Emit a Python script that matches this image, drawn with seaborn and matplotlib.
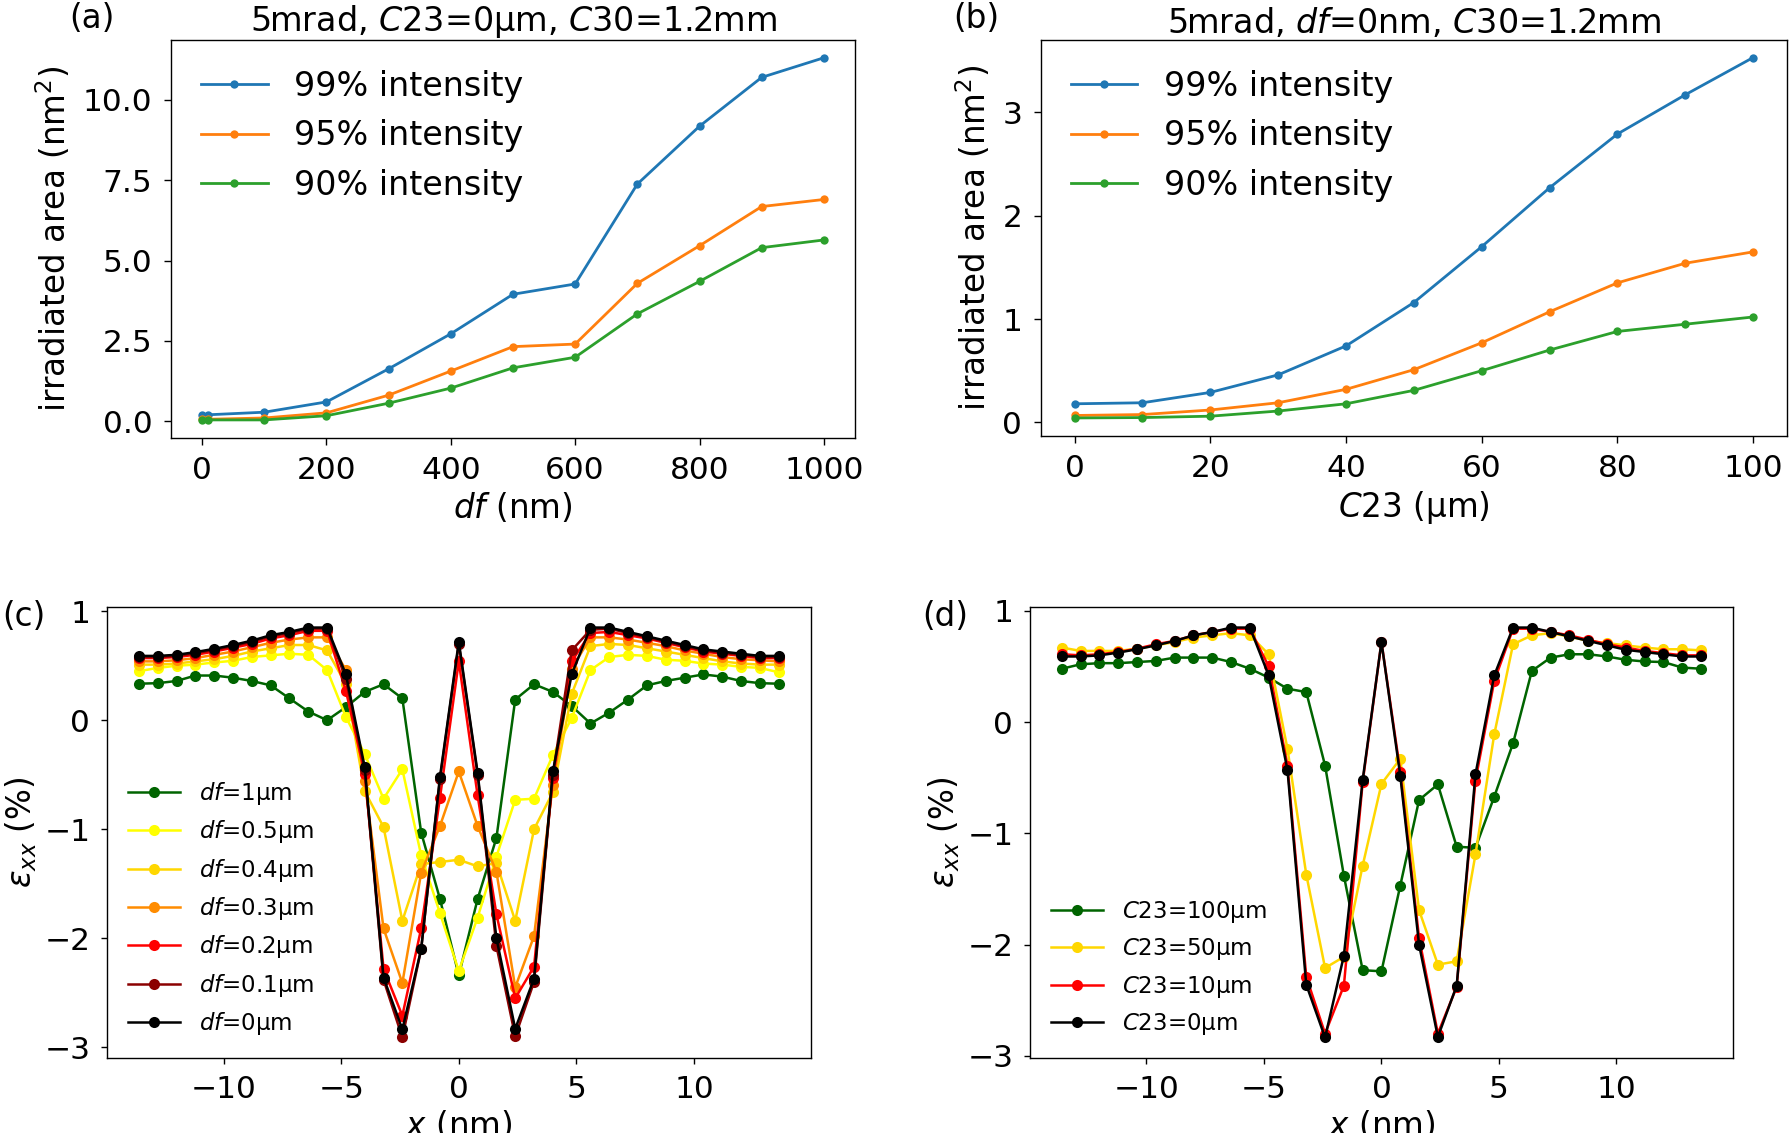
import numpy as np
import pandas as pd
import matplotlib
matplotlib.use("Agg")
import matplotlib.pyplot as plt
import seaborn as sns

# ---- (a) irradiated area vs defocus ----
df_nm = [0, 10, 100, 200, 300, 400, 500, 600, 700, 800, 900, 1000]
area_df_99 = [0.20, 0.20, 0.28, 0.60, 1.63, 2.72, 3.95, 4.27, 7.38, 9.18, 10.70, 11.31]
area_df_95 = [0.06, 0.06, 0.10, 0.26, 0.81, 1.56, 2.32, 2.40, 4.29, 5.46, 6.68, 6.90]
area_df_90 = [0.04, 0.04, 0.04, 0.17, 0.56, 1.03, 1.66, 1.99, 3.34, 4.35, 5.40, 5.64]

# ---- (b) irradiated area vs C23 ----
c23_um = [0, 10, 20, 30, 40, 50, 60, 70, 80, 90, 100]
area_c23_99 = [0.18, 0.19, 0.29, 0.46, 0.74, 1.16, 1.70, 2.27, 2.79, 3.17, 3.53]
area_c23_95 = [0.067, 0.076, 0.12, 0.19, 0.32, 0.51, 0.77, 1.07, 1.35, 1.54, 1.65]
area_c23_90 = [0.043, 0.047, 0.06, 0.11, 0.18, 0.31, 0.50, 0.70, 0.88, 0.95, 1.02]

# ---- (c)/(d) strain profiles ----
x_nm = [-13.6, -12.8, -12.0, -11.2, -10.4, -9.6, -8.8, -8.0, -7.2, -6.4, -5.6,
        -4.8, -4.0, -3.2, -2.4, -1.6, -0.8, 0.0, 0.8, 1.6, 2.4, 3.2, 4.0, 4.8,
        5.6, 6.4, 7.2, 8.0, 8.8, 9.6, 10.4, 11.2, 12.0, 12.8, 13.6]

exx_df_1 = [0.335, 0.34, 0.36, 0.41, 0.41, 0.39, 0.36, 0.32, 0.20, 0.08, 0.00,
            0.12, 0.26, 0.33, 0.20, -1.03, -1.64, -2.34, -1.64, -1.08, 0.19, 0.33, 0.26, 0.13,
            -0.03, 0.07, 0.19, 0.32, 0.36, 0.39, 0.42, 0.40, 0.36, 0.34, 0.335]
exx_df_05 = [0.45, 0.48, 0.50, 0.51, 0.53, 0.545, 0.58, 0.595, 0.61, 0.60, 0.46,
             0.03, -0.31, -0.72, -0.45, -1.24, -1.77, -2.30, -1.81, -1.25, -0.73, -0.72, -0.32, 0.02,
             0.46, 0.58, 0.60, 0.59, 0.555, 0.545, 0.52, 0.51, 0.49, 0.48, 0.44]
exx_df_04 = [0.51, 0.51, 0.52, 0.54, 0.56, 0.59, 0.63, 0.66, 0.69, 0.69, 0.64,
             0.33, -0.65, -0.98, -1.84, -1.32, -1.30, -1.28, -1.34, -1.31, -1.84, -1.00, -0.66, 0.24,
             0.68, 0.70, 0.69, 0.66, 0.63, 0.60, 0.57, 0.54, 0.52, 0.51, 0.51]
exx_df_03 = [0.54, 0.54, 0.55, 0.57, 0.60, 0.63, 0.67, 0.71, 0.74, 0.76, 0.76,
             0.46, -0.56, -1.91, -2.41, -1.40, -0.97, -0.47, -0.97, -1.39, -2.45, -1.98, -0.59, 0.47,
             0.76, 0.76, 0.74, 0.71, 0.68, 0.64, 0.61, 0.58, 0.56, 0.55, 0.54]
exx_df_02 = [0.57, 0.57, 0.58, 0.60, 0.63, 0.665, 0.70, 0.75, 0.78, 0.82, 0.82,
             0.27, -0.49, -2.28, -2.71, -1.91, -0.71, 0.54, -0.69, -1.78, -2.55, -2.26, -0.53, 0.54,
             0.80, 0.81, 0.78, 0.75, 0.71, 0.67, 0.63, 0.61, 0.59, 0.57, 0.57]
exx_df_01 = [0.58, 0.58, 0.59, 0.615, 0.645, 0.68, 0.72, 0.77, 0.80, 0.84, 0.84,
             0.38, -0.46, -2.38, -2.91, -2.10, -0.54, 0.70, -0.50, -2.07, -2.90, -2.40, -0.50, 0.64,
             0.83, 0.84, 0.80, 0.76, 0.72, 0.68, 0.64, 0.62, 0.60, 0.58, 0.58]
exx_df_0 = [0.59, 0.59, 0.60, 0.625, 0.655, 0.69, 0.73, 0.78, 0.81, 0.85, 0.85,
            0.42, -0.43, -2.36, -2.835, -2.10, -0.52, 0.72, -0.48, -2.00, -2.83, -2.37, -0.47, 0.42,
            0.85, 0.85, 0.81, 0.77, 0.73, 0.69, 0.65, 0.63, 0.61, 0.59, 0.59]

exx_c23_100 = [0.48, 0.52, 0.53, 0.53, 0.54, 0.55, 0.58, 0.58, 0.58, 0.54, 0.48,
               0.40, 0.30, 0.27, -0.39, -1.38, -2.23, -2.24, -1.47, -0.70, -0.56, -1.12, -1.13, -0.67,
               -0.19, 0.46, 0.58, 0.61, 0.61, 0.59, 0.56, 0.545, 0.54, 0.49, 0.48]
exx_c23_50 = [0.67, 0.64, 0.64, 0.64, 0.66, 0.69, 0.72, 0.76, 0.78, 0.80, 0.78,
              0.61, -0.24, -1.37, -2.21, -2.11, -1.29, -0.555, -0.33, -1.69, -2.18, -2.15, -1.19, -0.11,
              0.70, 0.78, 0.80, 0.77, 0.73, 0.71, 0.69, 0.67, 0.655, 0.655, 0.645]
exx_c23_10 = [0.61, 0.60, 0.61, 0.63, 0.66, 0.70, 0.73, 0.78, 0.81, 0.84, 0.84,
              0.50, -0.39, -2.29, -2.80, -2.37, -0.54, 0.72, -0.445, -1.94, -2.80, -2.38, -0.525, 0.37,
              0.84, 0.84, 0.81, 0.78, 0.74, 0.70, 0.67, 0.64, 0.62, 0.60, 0.60]
exx_c23_0 = exx_df_0

TICK_FS = 22.5
LAB_FS = 23.5
TOP_FS = 24
plt.rcParams['font.size'] = TICK_FS
plt.rcParams['mathtext.fontset'] = 'dejavusans'
plt.rcParams['axes.linewidth'] = 1.0
for ax_name in ['xtick', 'ytick']:
    plt.rcParams[ax_name + '.major.width'] = 1.0
    plt.rcParams[ax_name + '.labelsize'] = TICK_FS

fig = plt.figure(figsize=(17.89, 11.33), dpi=100)
ax_a = fig.add_axes([0.0956, 0.6134, 0.3823, 0.3516])
ax_b = fig.add_axes([0.5817, 0.6152, 0.4172, 0.3499])
ax_c = fig.add_axes([0.0598, 0.0662, 0.3933, 0.398])
ax_d = fig.add_axes([0.5757, 0.0662, 0.3930, 0.398])

tab = ['#1f77b4', '#ff7f0e', '#2ca02c']

# top row
for ax, xs, series in [
    (ax_a, df_nm, [area_df_99, area_df_95, area_df_90]),
    (ax_b, c23_um, [area_c23_99, area_c23_95, area_c23_90]),
]:
    for vals, lab, col in zip(series, ['99% intensity', '95% intensity', '90% intensity'], tab):
        sns.lineplot(x=xs, y=vals, ax=ax, color=col, marker='o', markersize=6,
                     markeredgewidth=0, linewidth=2, label=lab)
    ax.legend(loc='upper left', frameon=False, fontsize=TOP_FS, handlelength=2.0,
              labelspacing=0.5, handletextpad=0.8)
    ax.set_ylabel('irradiated area (nm$^2$)', fontsize=LAB_FS, labelpad=7)
    ax.tick_params(length=4.8, pad=8.5)

ax_a.set_xlabel('$df$ (nm)', fontsize=LAB_FS, labelpad=4)
ax_a.set_title('5mrad, $C$23=0μm, $C$30=1.2mm', fontsize=TOP_FS, pad=0.5)
ax_a.set_yticks([0, 2.5, 5.0, 7.5, 10.0])
ax_b.set_xlabel('$C$23 (μm)', fontsize=LAB_FS, labelpad=4)
ax_b.set_title('5mrad, $df$=0nm, $C$30=1.2mm', fontsize=TOP_FS, pad=0.5)
ax_b.set_yticks([0, 1, 2, 3])

# bottom row
c_series = [
    (exx_df_1, '$df$=1μm', 'darkgreen'),
    (exx_df_05, '$df$=0.5μm', '#ffff00'),
    (exx_df_04, '$df$=0.4μm', '#ffd700'),
    (exx_df_03, '$df$=0.3μm', 'darkorange'),
    (exx_df_02, '$df$=0.2μm', 'red'),
    (exx_df_01, '$df$=0.1μm', 'darkred'),
    (exx_df_0, '$df$=0μm', 'black'),
]
d_series = [
    (exx_c23_100, '$C$23=100μm', 'darkgreen'),
    (exx_c23_50, '$C$23=50μm', '#ffd700'),
    (exx_c23_10, '$C$23=10μm', 'red'),
    (exx_c23_0, '$C$23=0μm', 'black'),
]
for ax, series in [(ax_c, c_series), (ax_d, d_series)]:
    for vals, lab, col in series:
        sns.lineplot(x=x_nm, y=vals, ax=ax, color=col, marker='o', markersize=8,
                     markeredgewidth=0, linewidth=1.8, label=lab)
    ax.legend(loc='lower left', frameon=False, fontsize=16.5, handlelength=2.3,
              labelspacing=0.5, handletextpad=0.8)
    ax.set_xlabel('$x$ (nm)', fontsize=LAB_FS, labelpad=4)
    ax.set_ylabel(r'$\varepsilon_{xx}$ (%)', fontsize=LAB_FS, labelpad=4)
    ax.set_yticks([1, 0, -1, -2, -3])
    ax.set_xticks([-10, -5, 0, 5, 10])
    ax.tick_params(length=4.5, pad=7.5)

fig.text(92 / 1789, 1 - 19 / 1133, '(a)', ha='center', va='center', fontsize=LAB_FS)
fig.text(976 / 1789, 1 - 19 / 1133, '(b)', ha='center', va='center', fontsize=LAB_FS)
fig.text(2 / 1789, 1 - 617 / 1133, '(c)', ha='left', va='center', fontsize=LAB_FS)
fig.text(945 / 1789, 1 - 617 / 1133, '(d)', ha='center', va='center', fontsize=LAB_FS)

fig.savefig('out.png', dpi=100)
